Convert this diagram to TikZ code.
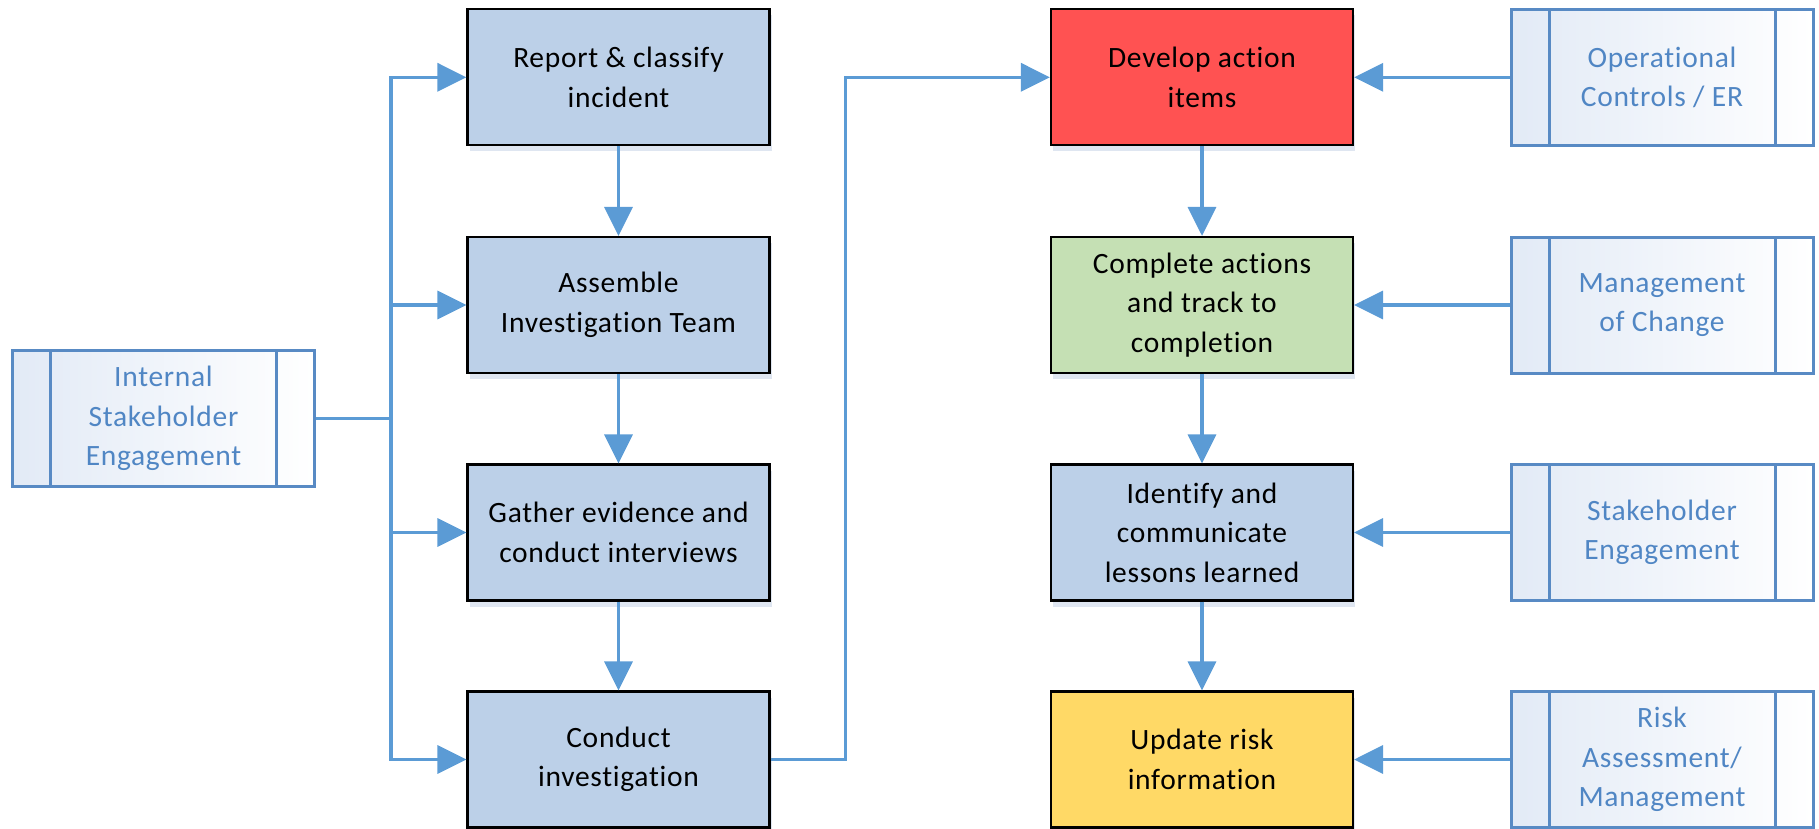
\documentclass[tikz,border=0pt]{standalone}
\usepackage{fontspec}
\setmainfont{Carlito}[Ligatures=CommonOff, LetterSpace=2.4]
\usetikzlibrary{arrows.meta,shadows}
\definecolor{boxblue}{RGB}{188,208,232}
\definecolor{boxred}{RGB}{255,82,82}
\definecolor{boxgreen}{RGB}{197,224,180}
\definecolor{boxyellow}{RGB}{255,217,102}
\definecolor{connblue}{RGB}{91,155,213}
\definecolor{sideblue}{RGB}{88,138,196}
\definecolor{sidetext}{RGB}{80,134,196}
\definecolor{sidefill}{RGB}{226,234,246}
\definecolor{shadowcol}{RGB}{215,224,238}
\begin{document}
\begin{tikzpicture}[x=1pt,y=-1pt,
  proc/.style={draw=black, line width=2.2pt, minimum width=302pt, minimum height=136pt,
    inner sep=0pt, align=center, text=black, font=\fontsize{29.5}{39.5}\selectfont,
    drop shadow={shadow xshift=2pt, shadow yshift=-6pt, opacity=0.8, fill=shadowcol}},
  sidebox/.style={draw=sideblue, line width=3pt, minimum width=302pt, minimum height=136pt,
    inner sep=0pt, align=center, text=sidetext, font=\fontsize{29.5}{39.5}\selectfont,
    left color=sidefill, right color=white,
    path picture={
      \draw[sideblue, line width=3pt]
        ([xshift=38pt]path picture bounding box.north west) -- ([xshift=38pt]path picture bounding box.south west)
        ([xshift=-38pt]path picture bounding box.north east) -- ([xshift=-38pt]path picture bounding box.south east);
    }},
  conn/.style={draw=connblue, line width=3.5pt},
  arr/.style={conn, -{Triangle[length=29pt,width=28pt]}}
]
\useasboundingbox (0,0) rectangle (1819,829);

% left column
\node[proc, fill=boxblue] (n1) at (618.5,77.3) {Report \& classify\\incident};
\node[proc, fill=boxblue] (n2) at (618.5,305) {Assemble\\Investigation Team};
\node[proc, fill=boxblue] (n3) at (618.5,532.5) {Gather evidence and\\conduct interviews};
\node[proc, fill=boxblue] (n4) at (618.5,759.5) {Conduct\\investigation};

% right column
\node[proc, fill=boxred] (d1) at (1202,77.3) {Develop action\\items};
\node[proc, fill=boxgreen] (d2) at (1202,305) {Complete actions\\and track to\\completion};
\node[proc, fill=boxblue] (d3) at (1202,532.5) {Identify and\\communicate\\lessons learned};
\node[proc, fill=boxyellow] (d4) at (1202,759.5) {Update risk\\information};

% side boxes
\node[sidebox] (int) at (163.5,418.5) {Internal\\Stakeholder\\Engagement};
\node[sidebox] (s1) at (1662,77.3) {Operational\\Controls / ER};
\node[sidebox] (s2) at (1662,305) {Management\\of Change};
\node[sidebox] (s3) at (1662,532.5) {Stakeholder\\Engagement};
\node[sidebox] (s4) at (1662,759.5) {Risk\\Assessment/\\Management};

% trunk from internal stakeholder
\coordinate (trunk) at (391,418.5);
\draw[arr] (int.east) -- (trunk) |- (n1.west);
\draw[arr] (int.east) -- (trunk) |- (n2.west);
\draw[arr] (int.east) -- (trunk) |- (n3.west);
\draw[arr] (int.east) -- (trunk) |- (n4.west);

% vertical flows
\draw[arr] (n1.south) -- (n2.north);
\draw[arr] (n2.south) -- (n3.north);
\draw[arr] (n3.south) -- (n4.north);
\draw[arr] (d1.south) -- (d2.north);
\draw[arr] (d2.south) -- (d3.north);
\draw[arr] (d3.south) -- (d4.north);

% crossover
\coordinate (cross) at (845.5,759.5);
\draw[arr] (n4.east) -- (cross) |- (d1.west);

% side inputs
\draw[arr] (s1.west) -- (d1.east);
\draw[arr] (s2.west) -- (d2.east);
\draw[arr] (s3.west) -- (d3.east);
\draw[arr] (s4.west) -- (d4.east);
\end{tikzpicture}
\end{document}
